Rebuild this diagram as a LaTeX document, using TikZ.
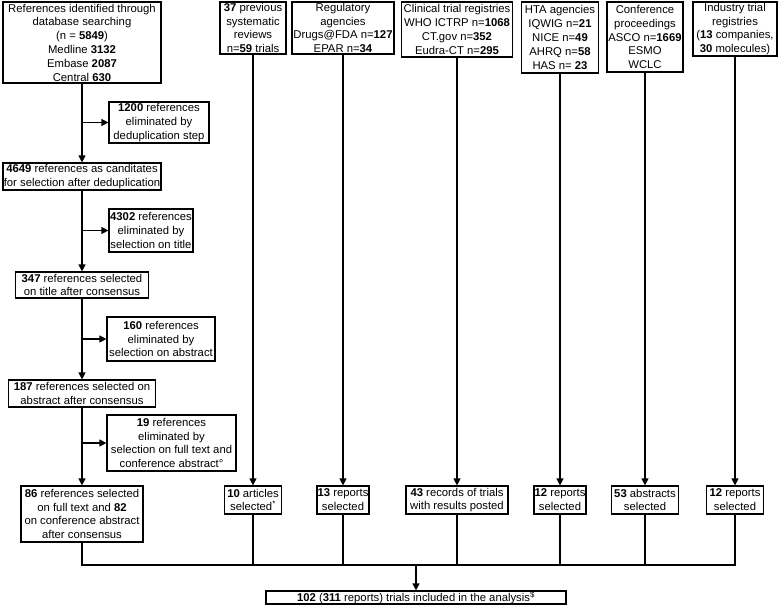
\documentclass[tikz,border=0pt]{standalone}
\usepackage{fontspec}
\setmainfont{Liberation Sans}
\usetikzlibrary{arrows.meta}
\begin{document}
\begin{tikzpicture}[x=1pt,y=-1pt,
  every node/.style={font=\fontsize{11.3}{13.8}\selectfont},
  box/.style={draw, line width=1.2pt, align=center, inner sep=0pt},
  line/.style={line width=1.2pt},
  arr/.style={line width=1.2pt, -{Triangle[length=7pt,width=7pt]}}]
\useasboundingbox (0,0) rectangle (780,605);
\node[box, minimum width=158pt, minimum height=81pt] (db) at (82,42.5){References identified through\\database searching\\(n = \textbf{5849})\\Medline \textbf{3132}\\Embase \textbf{2087}\\Central \textbf{630}};
\node[box, minimum width=100pt, minimum height=41pt] (dup) at (159,122.5){\textbf{1200} references\\eliminated by\\deduplication step};
\node[box, minimum width=158pt, minimum height=27pt] (ded) at (82,176.5){\textbf{4649} references as canditates\\for selection after deduplication};
\node[box, minimum width=84pt, minimum height=43pt] (tit) at (151,230.5){\textbf{4302} references\\eliminated by\\selection on title};
\node[box, minimum width=133pt, minimum height=26pt] (st) at (82,285){\textbf{347} references selected\\on title after consensus};
\node[box, minimum width=108pt, minimum height=44pt] (abs) at (161,339){\textbf{160} references\\eliminated by\\selection on abstract};
\node[box, minimum width=147pt, minimum height=27pt] (sa) at (82,393.5){\textbf{187} references selected on\\abstract after consensus};
\node[box, minimum width=129pt, minimum height=56pt] (ft) at (171.5,443){\textbf{19} references\\eliminated by\\selection on full text and\\conference abstract°};
\node[box, minimum width=122pt, minimum height=56pt] (sft) at (82,514){\textbf{86} references selected\\on full text and \textbf{82}\\on conference abstract\\after consensus};
\draw[arr](db) -- (ded);
\draw[arr](dup.west -| db) -- (dup);
\draw[arr](ded) -- (st);
\draw[arr](tit.west -| ded) -- (tit);
\draw[arr](st) -- (sa);
\draw[arr](abs.west -| st) -- (abs);
\draw[arr](sa) -- (sft);
\draw[arr](ft.west -| sa) -- (ft);
\node[box, minimum width=66pt, minimum height=52pt] (rev) at (253,28){\textbf{37} previous\\systematic\\reviews\\n=\textbf{59} trials};
\node[box, minimum width=102pt, minimum height=52pt] (reg) at (343,28){Regulatory\\agencies\\Drugs@FDA n=\textbf{127}\\EPAR n=\textbf{34}};
\node[box, minimum width=111pt, minimum height=55pt] (ctr) at (457,29.5){Clinical trial registries\\WHO ICTRP n=\textbf{1068}\\CT.gov n=\textbf{352}\\Eudra-CT n=\textbf{295}};
\node[box, minimum width=77pt, minimum height=71pt] (hta) at (560,37.5){HTA agencies\\IQWIG n=\textbf{21}\\NICE n=\textbf{49}\\AHRQ n=\textbf{58}\\HAS n= \textbf{23}};
\node[box, minimum width=76pt, minimum height=70pt] (conf) at (645,37){Conference\\proceedings\\ASCO n=\textbf{1669}\\ESMO\\WCLC};
\node[box, minimum width=84pt, minimum height=54pt] (ind) at (735,29){Industry trial\\registries\\(\textbf{13} companies,\\\textbf{30} molecules)};
\node[box, minimum width=57pt, minimum height=28pt] (s1) at (253,500){\textbf{10} articles\\selected\textsuperscript{*}};
\node[box, minimum width=52pt, minimum height=28pt] (s2) at (343,500){\textbf{13} reports\\selected};
\node[box, minimum width=102pt, minimum height=28pt] (s3) at (457,500){\textbf{43} records of trials\\with results posted};
\node[box, minimum width=52pt, minimum height=28pt] (s4) at (560,500){\textbf{12} reports\\selected};
\node[box, minimum width=67pt, minimum height=28pt] (s5) at (645,500){\textbf{53} abstracts\\selected};
\node[box, minimum width=57pt, minimum height=28pt] (s6) at (735,500){\textbf{12} reports\\selected};
\draw[arr](rev) -- (s1);
\draw[arr](reg) -- (s2);
\draw[arr](ctr) -- (s3);
\draw[arr](hta) -- (s4);
\draw[arr](conf) -- (s5);
\draw[arr](ind) -- (s6);
\coordinate (bus) at (416,565);
\node[box, minimum width=300pt, minimum height=13pt] (fin) at (416,597.5){\textbf{102} (\textbf{311} reports) trials included in the analysis\textsuperscript{\$}};
\draw[line](sft) -- (sft |- bus) -- (s6 |- bus) -- (s6);
\foreach \n in {s1,s2,s3,s4,s5}
  \draw[line](\n) -- (\n |- bus);
\draw[arr](bus) -- (fin);
\end{tikzpicture}
\end{document}
